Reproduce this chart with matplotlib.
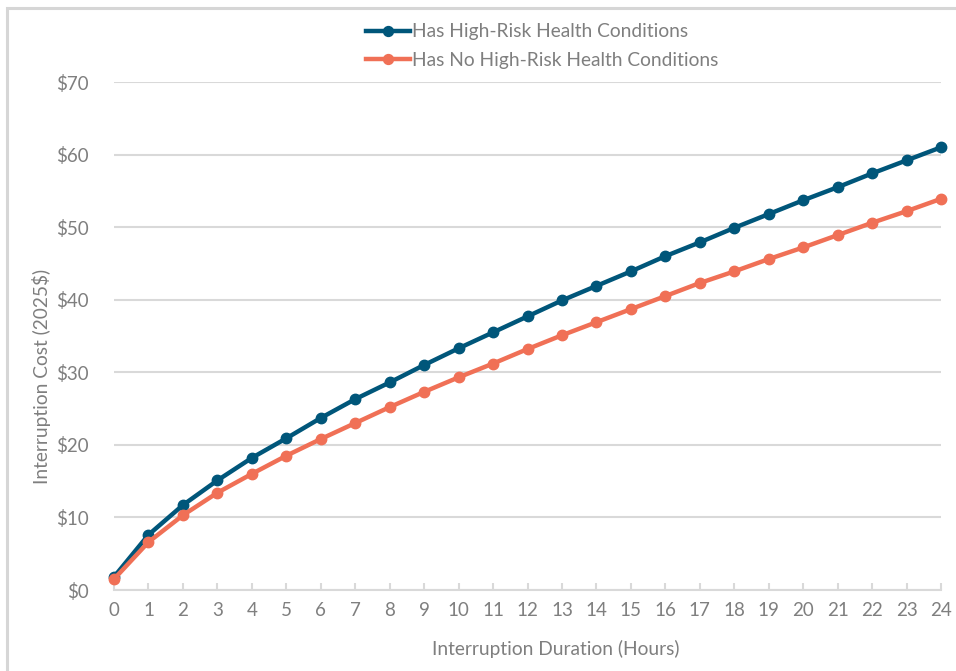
import matplotlib.pyplot as plt
from matplotlib.patches import Rectangle
from matplotlib.ticker import FuncFormatter

hours = list(range(25))
high_risk = [1.8, 7.6, 11.7, 15.1, 18.2, 20.9, 23.7, 26.3, 28.6, 31.0, 33.3, 35.5, 37.7,
             39.9, 41.9, 43.9, 46.0, 47.9, 49.9, 51.8, 53.7, 55.5, 57.4, 59.2, 61.0]
no_high_risk = [1.5, 6.6, 10.3, 13.4, 16.0, 18.5, 20.8, 23.0, 25.2, 27.3, 29.3, 31.2, 33.2,
                35.1, 36.9, 38.7, 40.5, 42.3, 43.9, 45.6, 47.2, 48.9, 50.6, 52.2, 53.9]
labels = ["Has High-Risk Health Conditions", "Has No High-Risk Health Conditions"]

blue = "#00567a"
orange = "#f07056"
grey_txt = "#7f7f7f"
grid_c = "#d9d9d9"

plt.rcParams['font.family'] = ['Lato', 'DejaVu Sans']

fig = plt.figure(figsize=(9.56, 6.71), dpi=100)
ax = fig.add_axes([114/956, 81/671, 827/956, 508/671])

# outer chart border (clipped at right/bottom of the image)
fig.patches.append(Rectangle((7/956, -0.05), 1.2, (671-8)/671 + 0.05,
                             transform=fig.transFigure, fill=False,
                             edgecolor="#d6d6d6", lw=2.2, zorder=0))

ax.plot(hours, high_risk, color=blue, lw=3.2, marker='o', ms=7.5, label=labels[0],
        clip_on=False, zorder=3)
ax.plot(hours, no_high_risk, color=orange, lw=3.2, marker='o', ms=7.5, label=labels[1],
        clip_on=False, zorder=3)

ax.set_xlim(0, 24)
ax.set_ylim(0, 70)
ax.set_xticks(hours)
ax.set_yticks(range(0, 71, 10))
ax.yaxis.set_major_formatter(FuncFormatter(lambda v, p: f"${int(v)}"))

ax.grid(axis='y', color=grid_c, lw=1.5)
ax.set_axisbelow(True)
for s in ['top', 'right', 'left']:
    ax.spines[s].set_visible(False)
ax.spines['bottom'].set_color(grid_c)
ax.spines['bottom'].set_linewidth(1.5)

ax.tick_params(axis='x', direction='in', length=5, width=1.5, color=grid_c,
               labelsize=13.5, labelcolor=grey_txt, pad=9)
ax.tick_params(axis='y', length=0, labelsize=13.5, labelcolor=grey_txt, pad=18)

ax.set_xlabel("Interruption Duration (Hours)", fontsize=13.8, color=grey_txt, labelpad=15)
ax.set_ylabel("Interruption Cost (2025$)", fontsize=13.8, color=grey_txt, labelpad=4)
# axis titles sit a little off-centre
ax.xaxis.label.set_x(0.534)
ax.yaxis.label.set_y(0.421)

leg = fig.legend(loc='center', bbox_to_anchor=(542/956, 1 - 46/671), frameon=False,
                 fontsize=13.8, handlelength=2.3, handletextpad=0.1, labelspacing=0.6,
                 markerscale=0.95)
for t in leg.get_texts():
    t.set_color(grey_txt)

fig.savefig("out.png", dpi=100, facecolor='white')
